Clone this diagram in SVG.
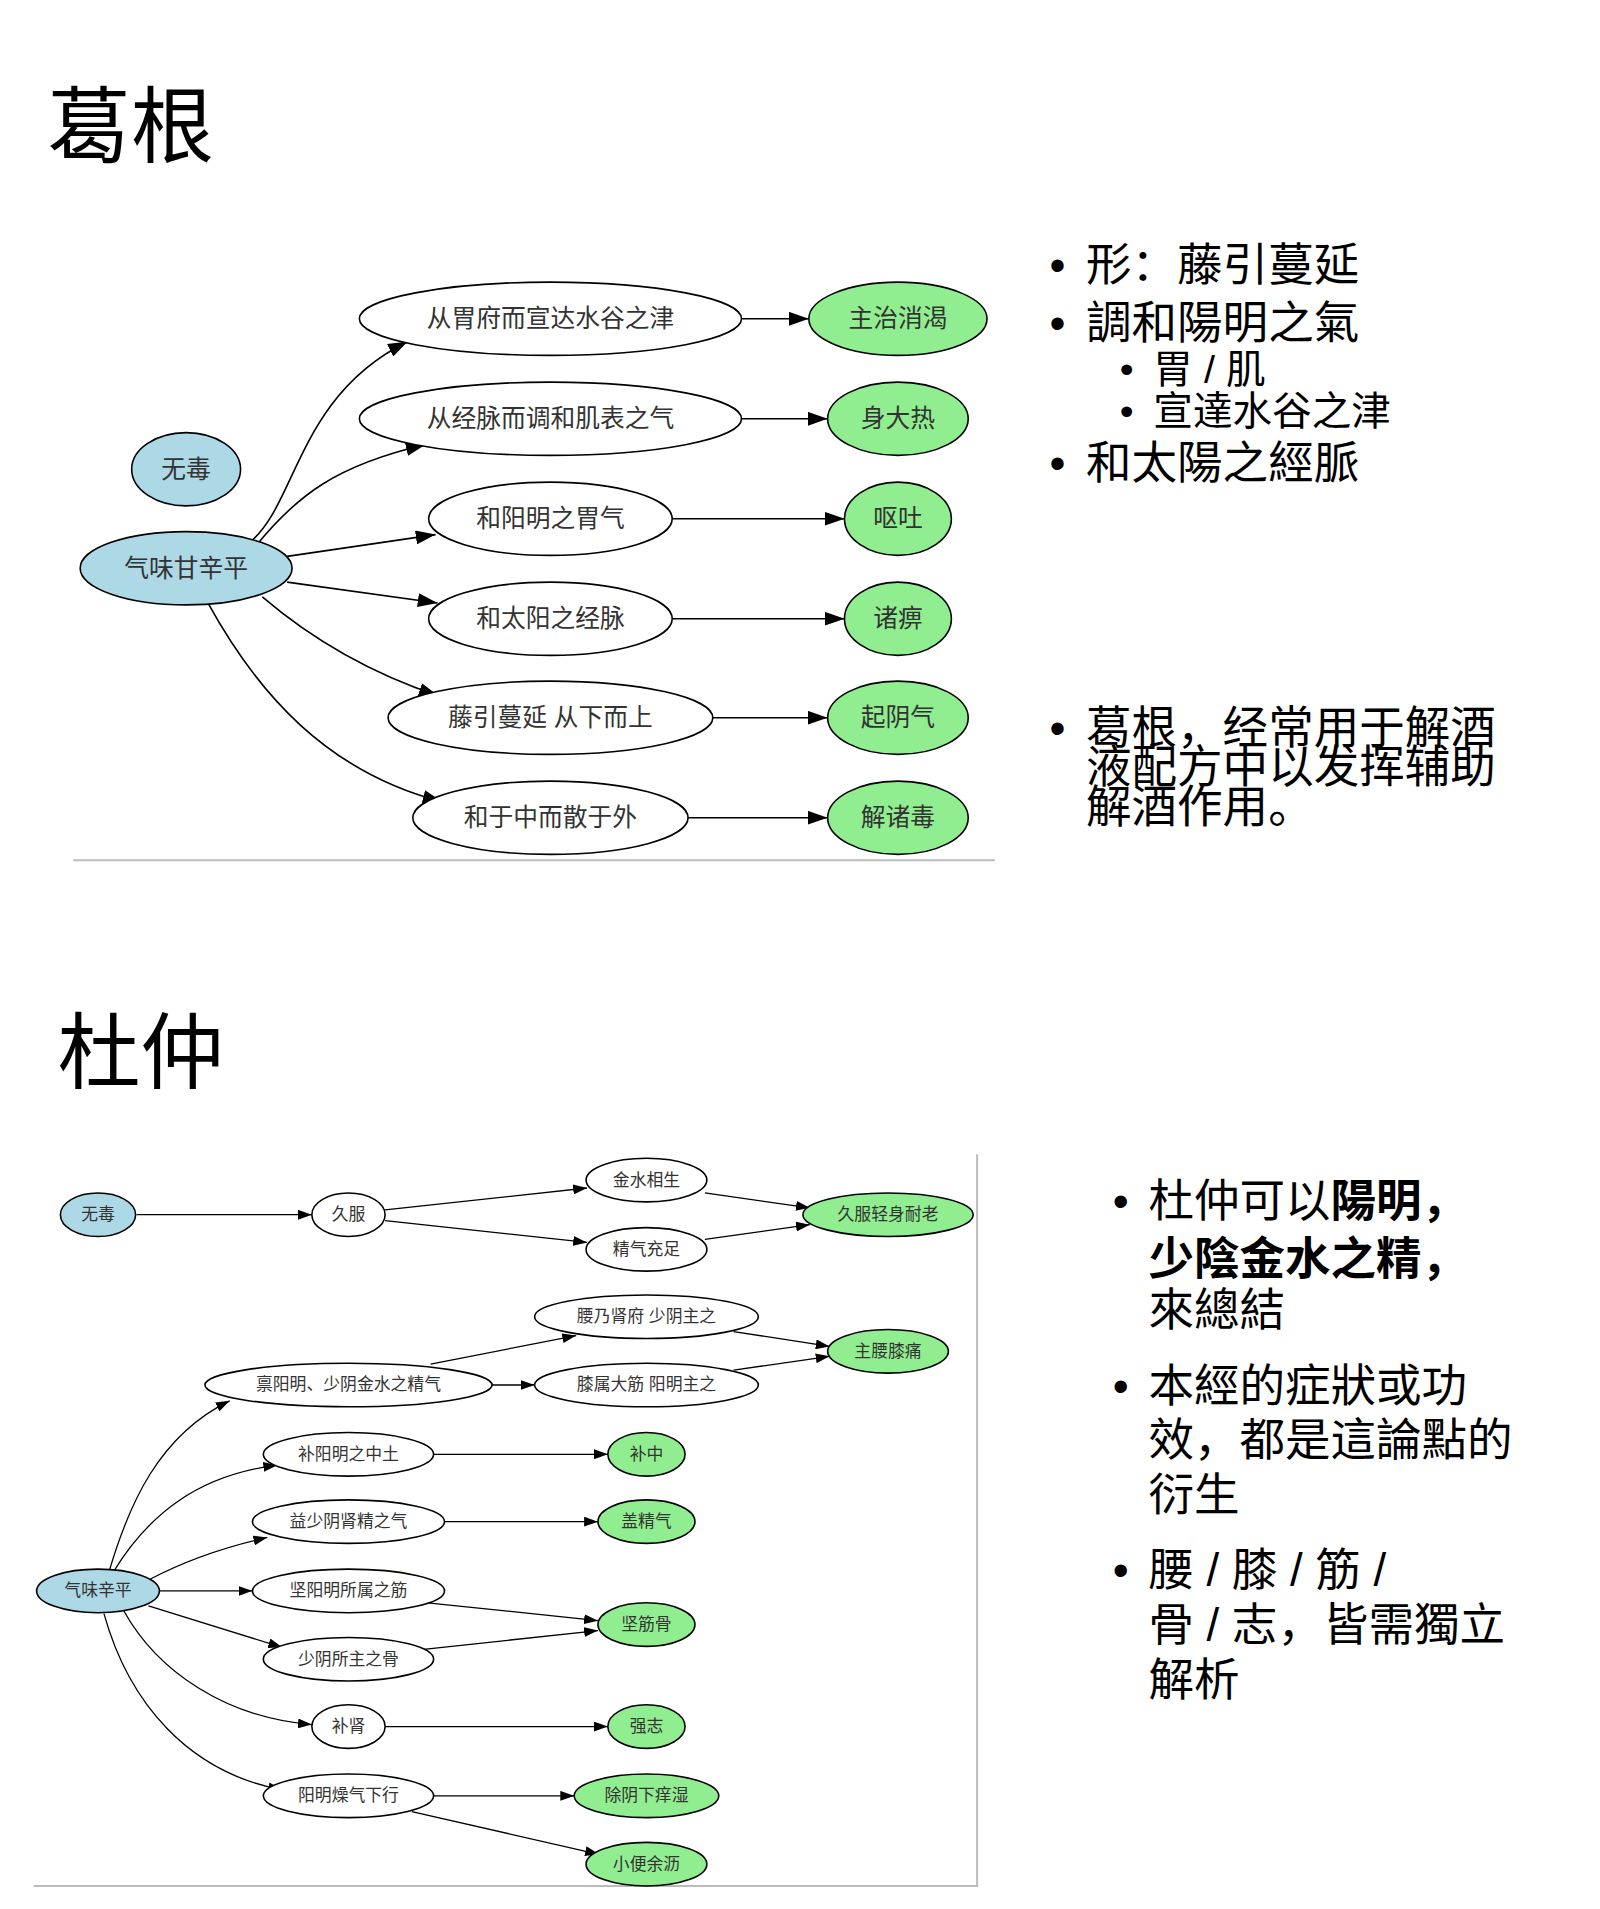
<svg xmlns="http://www.w3.org/2000/svg" width="1600" height="1909" viewBox="0 0 1600 1909">
<style>
text{font-family:"Liberation Sans","Noto Sans CJK SC",sans-serif;fill:#000}
.n{fill:#fff;stroke:#000;stroke-width:1.6}
.b{fill:#add8e6;stroke:#000;stroke-width:1.6}
.g{fill:#90ee90;stroke:#000;stroke-width:1.6}
.t1{font-size:25px;text-anchor:middle;dominant-baseline:central;fill:#333}
.t2{font-size:17px;text-anchor:middle;dominant-baseline:central;fill:#333}
.e1{fill:none;stroke:#000;stroke-width:1.6;marker-end:url(#a1)}
.e2{fill:none;stroke:#000;stroke-width:1.3;marker-end:url(#a2)}
.h{font-size:84px}
.p{font-size:46px}
.s{font-size:40px}
</style>
<defs>
<marker id="a1" markerWidth="20" markerHeight="14" refX="20" refY="7" orient="auto" markerUnits="userSpaceOnUse"><path d="M0,0 L20,7 L0,14 Z" fill="#000"/></marker>
<marker id="a2" markerWidth="14" markerHeight="10" refX="14" refY="5" orient="auto" markerUnits="userSpaceOnUse"><path d="M0,0 L14,5 L0,10 Z" fill="#000"/></marker>
</defs>
<rect width="1600" height="1909" fill="#fff"/>
<g transform="scale(0.99)">
<text class="h" x="48" y="158">葛根</text>
<text class="h" x="58" y="1093">杜仲</text>
<line x1="74" y1="869" x2="1005" y2="869" stroke="#bbb" stroke-width="2"/>
<polyline points="987,1166 987,1905 34,1905" fill="none" stroke="#bbb" stroke-width="2"/>

<g id="edges-top">
<path class="e1" d="M252,548 C300,510 300,400 412,345"/>
<path class="e1" d="M258,552 C300,500 340,470 430,449"/>
<path class="e1" d="M290,562 L440,540"/>
<path class="e1" d="M290,588 L442,609"/>
<path class="e1" d="M265,603 C320,650 380,682 443,703"/>
<path class="e1" d="M210,609 C260,700 330,780 447,810"/>
<path class="e1" d="M749,322 L817,322"/>
<path class="e1" d="M749,423 L836,423"/>
<path class="e1" d="M679,524 L853,524"/>
<path class="e1" d="M679,625 L853,625"/>
<path class="e1" d="M720,725 L836,725"/>
<path class="e1" d="M695,826 L836,826"/>
</g>
<g id="n-wudu1"><ellipse class="b" cx="188" cy="474" rx="55" ry="37"/><text class="t1" x="188" y="474">无毒</text></g>
<g id="n-qiwei1"><ellipse class="b" cx="188" cy="574" rx="107" ry="37"/><text class="t1" x="188" y="574">气味甘辛平</text></g>
<g id="n-a1"><ellipse class="n" cx="556" cy="322" rx="193" ry="37"/><text class="t1" x="556" y="322">从胃府而宣达水谷之津</text></g>
<g id="n-a2"><ellipse class="n" cx="556" cy="423" rx="193" ry="37"/><text class="t1" x="556" y="423">从经脉而调和肌表之气</text></g>
<g id="n-a3"><ellipse class="n" cx="556" cy="524" rx="123" ry="37"/><text class="t1" x="556" y="524">和阳明之胃气</text></g>
<g id="n-a4"><ellipse class="n" cx="556" cy="625" rx="123" ry="37"/><text class="t1" x="556" y="625">和太阳之经脉</text></g>
<g id="n-a5"><ellipse class="n" cx="556" cy="725" rx="164" ry="37"/><text class="t1" x="556" y="725">藤引蔓延 从下而上</text></g>
<g id="n-a6"><ellipse class="n" cx="556" cy="826" rx="139" ry="37"/><text class="t1" x="556" y="826">和于中而散于外</text></g>
<g id="n-b1"><ellipse class="g" cx="907" cy="322" rx="90" ry="37"/><text class="t1" x="907" y="322">主治消渴</text></g>
<g id="n-b2"><ellipse class="g" cx="907" cy="423" rx="71" ry="37"/><text class="t1" x="907" y="423">身大热</text></g>
<g id="n-b3"><ellipse class="g" cx="907" cy="524" rx="54" ry="37"/><text class="t1" x="907" y="524">呕吐</text></g>
<g id="n-b4"><ellipse class="g" cx="907" cy="625" rx="54" ry="37"/><text class="t1" x="907" y="625">诸痹</text></g>
<g id="n-b5"><ellipse class="g" cx="907" cy="725" rx="71" ry="37"/><text class="t1" x="907" y="725">起阴气</text></g>
<g id="n-b6"><ellipse class="g" cx="907" cy="826" rx="71" ry="37"/><text class="t1" x="907" y="826">解诸毒</text></g>

<g id="text-top">
<text class="p" x="1060" y="284">•</text><text class="p" x="1097" y="284">形：藤引蔓延</text>
<text class="p" x="1060" y="342">•</text><text class="p" x="1097" y="342">調和陽明之氣</text>
<text class="s" x="1131" y="387">•</text><text class="s" x="1165" y="387">胃 / 肌</text>
<text class="s" x="1131" y="429">•</text><text class="s" x="1165" y="429">宣達水谷之津</text>
<text class="p" x="1060" y="484">•</text><text class="p" x="1097" y="484">和太陽之經脈</text>
<text class="p" x="1060" y="752">•</text><text class="p" x="1097" y="752">葛根，经常用于解酒</text>
<text class="p" x="1097" y="791">液配方中以发挥辅助</text>
<text class="p" x="1097" y="831">解酒作用。</text>
</g>

<g id="edges-bottom">
<path class="e2" d="M138,1227 L315,1227"/>
<path class="e2" d="M389,1222 L593,1200"/>
<path class="e2" d="M389,1233 L593,1255"/>
<path class="e2" d="M712,1205 L818,1220"/>
<path class="e2" d="M712,1252 L818,1237"/>
<path class="e2" d="M435,1378 L582,1349"/>
<path class="e2" d="M497,1399 L540,1399"/>
<path class="e2" d="M741,1345 L838,1360"/>
<path class="e2" d="M741,1384 L838,1370"/>
<path class="e2" d="M110,1588 C130,1520 160,1450 232,1415"/>
<path class="e2" d="M115,1587 C150,1530 200,1490 280,1480"/>
<path class="e2" d="M152,1595 C190,1575 230,1562 270,1553"/>
<path class="e2" d="M161,1607 L255,1607"/>
<path class="e2" d="M150,1622 L285,1664"/>
<path class="e2" d="M125,1627 C160,1690 230,1735 315,1742"/>
<path class="e2" d="M105,1630 C130,1720 190,1790 285,1808"/>
<path class="e2" d="M438,1469 L614,1469"/>
<path class="e2" d="M449,1537 L604,1537"/>
<path class="e2" d="M432,1619 L604,1637"/>
<path class="e2" d="M428,1666 L604,1647"/>
<path class="e2" d="M389,1744 L614,1744"/>
<path class="e2" d="M438,1814 L580,1814"/>
<path class="e2" d="M416,1830 L605,1873"/>
</g>
<g id="m-wudu"><ellipse class="b" cx="99" cy="1227" rx="38" ry="22"/><text class="t2" x="99" y="1227">无毒</text></g>
<g id="m-jiufu"><ellipse class="n" cx="352" cy="1227" rx="37" ry="22"/><text class="t2" x="352" y="1227">久服</text></g>
<g id="m-jinshui"><ellipse class="n" cx="653" cy="1192" rx="61" ry="22"/><text class="t2" x="653" y="1192">金水相生</text></g>
<g id="m-jingqi"><ellipse class="n" cx="653" cy="1262" rx="61" ry="22"/><text class="t2" x="653" y="1262">精气充足</text></g>
<g id="m-qingshen"><ellipse class="g" cx="897" cy="1227" rx="86" ry="22"/><text class="t2" x="897" y="1227">久服轻身耐老</text></g>
<g id="m-yao"><ellipse class="n" cx="653" cy="1330" rx="113" ry="22"/><text class="t2" x="653" y="1330">腰乃肾府 少阴主之</text></g>
<g id="m-yaoxi"><ellipse class="g" cx="897" cy="1365" rx="61" ry="22"/><text class="t2" x="897" y="1365">主腰膝痛</text></g>
<g id="m-bing"><ellipse class="n" cx="352" cy="1399" rx="145" ry="22"/><text class="t2" x="352" y="1399">禀阳明、少阴金水之精气</text></g>
<g id="m-xi"><ellipse class="n" cx="653" cy="1399" rx="113" ry="22"/><text class="t2" x="653" y="1399">膝属大筋 阳明主之</text></g>
<g id="m-buyang"><ellipse class="n" cx="352" cy="1469" rx="86" ry="22"/><text class="t2" x="352" y="1469">补阳明之中土</text></g>
<g id="m-buzhong"><ellipse class="g" cx="653" cy="1469" rx="39" ry="22"/><text class="t2" x="653" y="1469">补中</text></g>
<g id="m-yi"><ellipse class="n" cx="352" cy="1537" rx="97" ry="22"/><text class="t2" x="352" y="1537">益少阴肾精之气</text></g>
<g id="m-gai"><ellipse class="g" cx="653" cy="1537" rx="49" ry="22"/><text class="t2" x="653" y="1537">盖精气</text></g>
<g id="m-qiwei"><ellipse class="b" cx="99" cy="1607" rx="62" ry="22"/><text class="t2" x="99" y="1607">气味辛平</text></g>
<g id="m-jianyang"><ellipse class="n" cx="352" cy="1607" rx="97" ry="22"/><text class="t2" x="352" y="1607">坚阳明所属之筋</text></g>
<g id="m-jianjin"><ellipse class="g" cx="653" cy="1641" rx="49" ry="22"/><text class="t2" x="653" y="1641">坚筋骨</text></g>
<g id="m-shaoyin"><ellipse class="n" cx="352" cy="1676" rx="86" ry="22"/><text class="t2" x="352" y="1676">少阴所主之骨</text></g>
<g id="m-bushen"><ellipse class="n" cx="352" cy="1744" rx="37" ry="22"/><text class="t2" x="352" y="1744">补肾</text></g>
<g id="m-qiangzhi"><ellipse class="g" cx="653" cy="1744" rx="39" ry="22"/><text class="t2" x="653" y="1744">强志</text></g>
<g id="m-zao"><ellipse class="n" cx="352" cy="1814" rx="86" ry="22"/><text class="t2" x="352" y="1814">阳明燥气下行</text></g>
<g id="m-chuyin"><ellipse class="g" cx="653" cy="1814" rx="73" ry="22"/><text class="t2" x="653" y="1814">除阴下痒湿</text></g>
<g id="m-xiaobian"><ellipse class="g" cx="653" cy="1883" rx="61" ry="22"/><text class="t2" x="653" y="1883">小便余沥</text></g>

<g id="text-bottom">
<text class="p" x="1124" y="1229">•</text><text class="p" x="1160" y="1229">杜仲可以<tspan font-weight="bold">陽明，</tspan></text>
<text class="p" x="1160" y="1288" font-weight="bold">少陰金水之精，</text>
<text class="p" x="1160" y="1339">來總結</text>
<text class="p" x="1124" y="1416">•</text><text class="p" x="1160" y="1416">本經的症狀或功</text>
<text class="p" x="1160" y="1471">效，都是這論點的</text>
<text class="p" x="1160" y="1526">衍生</text>
<text class="p" x="1124" y="1602">•</text><text class="p" x="1160" y="1602">腰 / 膝 / 筋 /</text>
<text class="p" x="1160" y="1658">骨 / 志，皆需獨立</text>
<text class="p" x="1160" y="1713">解析</text>
</g>
</g>
</svg>
